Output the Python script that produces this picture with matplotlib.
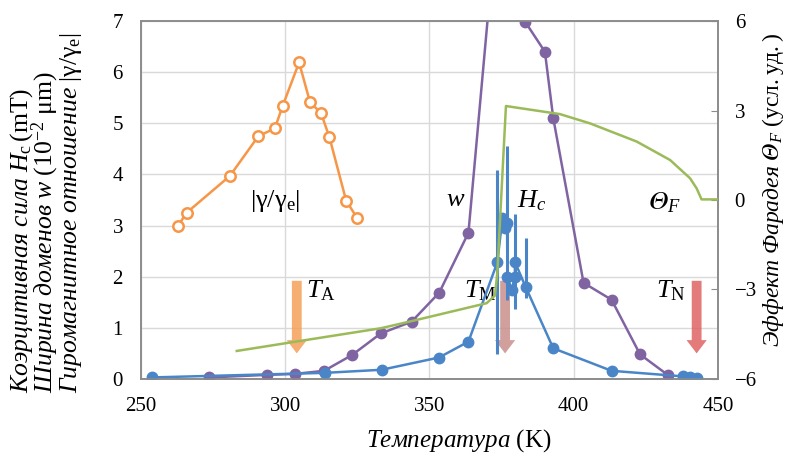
import matplotlib
matplotlib.use("Agg")
import matplotlib.pyplot as plt
from matplotlib.patches import FancyArrow

plt.rcParams["font.family"] = ["Liberation Serif", "DejaVu Serif"]
plt.rcParams["mathtext.fontset"] = "custom"
plt.rcParams["mathtext.rm"] = "Liberation Serif"
plt.rcParams["mathtext.it"] = "Liberation Serif:italic"
plt.rcParams["mathtext.bf"] = "Liberation Serif:bold"
plt.rcParams["mathtext.fallback"] = "stix"

# Coercive force Hc (mT) with error bars
hc_T = [253.7, 313.8, 333.4, 353.3, 363.5, 373.5, 375.3, 376.0, 376.9, 377.0,
        378.5, 379.6, 379.6, 383.4, 392.9, 413.1, 438.0, 440.3, 442.6]
hc_val = [0.03, 0.12, 0.18, 0.42, 0.73, 2.28, 3.15, 2.95, 3.05, 2.00,
          1.74, 2.00, 2.29, 1.79, 0.60, 0.16, 0.05, 0.03, 0.01]
hc_err_lo = [0, 0, 0, 0, 0, 1.80, 0.10, 0.10, 1.50, 0.10,
             0.10, 0.10, 0.93, 0.21, 0, 0, 0, 0, 0]
hc_err_hi = [0, 0, 0, 0, 0, 1.80, 0.10, 0.10, 1.50, 0.10,
             0.10, 0.10, 0.93, 0.97, 0, 0, 0, 0, 0]

# Domain width w (10^-2 um); the peak runs above the plotted range
w_T = [273.6, 293.6, 303.5, 313.5, 323.2, 333.1, 343.8, 353.4, 363.5, 376.0,
       383.1, 390.0, 392.9, 403.4, 413.1, 423.0, 432.8]
w_val = [0.03, 0.08, 0.10, 0.16, 0.47, 0.89, 1.12, 1.69, 2.86, 10.7,
         6.99, 6.40, 5.10, 1.88, 1.55, 0.48, 0.07]

# Gyromagnetic ratio |gamma/gamma_e|
g_T = [262.9, 265.8, 280.8, 290.7, 296.4, 299.1, 304.8, 308.6, 312.4, 315.3, 321.1, 325.0]
g_val = [3.00, 3.25, 3.97, 4.75, 4.90, 5.34, 6.19, 5.41, 5.20, 4.73, 3.49, 3.14]

# Faraday effect Theta_F (arb. units), right axis
f_T = [283.2, 303.5, 333.1, 343.8, 369.8, 372.7, 373.5, 376.5, 395.2, 405.6,
       421.8, 433.4, 440.3, 442.6, 444.3, 450.3]
f_val = [-5.06, -4.75, -4.30, -4.06, -3.46, -3.20, -2.45, 3.15, 2.88, 2.57,
         1.96, 1.34, 0.73, 0.39, 0.02, 0.02]

# Transition temperatures marked by arrows
trans_names = ["A", "M", "N"]
trans_T = [304.0, 376.2, 442.6]

x_ticks = [250, 300, 350, 400, 450]
y_ticks = [0, 1, 2, 3, 4, 5, 6, 7]
y2_ticks = [-6, -3, 0, 3, 6]

BLUE = "#4a86c7"
PURPLE = "#8064a2"
ORANGE = "#f79646"
GREEN = "#9bbb59"
GRID = "#d9d9d9"
FRAME = "#8c8c8c"
THETA = "\U0001D6E9"  # mathematical italic capital theta

fig = plt.figure(figsize=(7.89, 4.53), dpi=100)
ax = fig.add_axes([0.1787, 0.1634, 0.7313, 0.7902])
ax.set_xlim(250, 450)
ax.set_ylim(0, 7)
ax.set_xticks(x_ticks)
ax.set_yticks(y_ticks)
ax.grid(True, color=GRID, lw=1.0)
ax.set_axisbelow(True)
for s in ax.spines.values():
    s.set_color(FRAME)
    s.set_linewidth(1.2)
ax.tick_params(length=0, labelsize=15)
ax.tick_params(axis="y", pad=13)
ax.tick_params(axis="x", pad=13)

# arrows for transition temperatures
arrow_cols = ["#f5a05a", "#c98f8c", "#e06464"]
for t, c in zip(trans_T, arrow_cols):
    ax.add_patch(FancyArrow(t, 1.92, 0, -1.42, width=3.4, head_width=7.0,
                            head_length=0.26, length_includes_head=True,
                            color=c, alpha=0.85, lw=0, zorder=2))

ax.plot(g_T, g_val, color=ORANGE, lw=1.8, marker="o", ms=7.5, mfc="white",
        mec=ORANGE, mew=1.8, zorder=4)
ax.plot(w_T, w_val, color=PURPLE, lw=1.8, marker="o", ms=7.5, mec=PURPLE,
        zorder=4)
ax.errorbar(hc_T, hc_val, yerr=[hc_err_lo, hc_err_hi], color=BLUE, lw=1.8,
            marker="o", ms=7.5, elinewidth=2.2, capsize=0, zorder=5)

ax.set_xlabel(r"$\mathit{Температура}\ \mathrm{(K)}$", fontsize=18)
ax.xaxis.set_label_coords(0.551, -0.135)

ax2 = ax.twinx()
ax2.set_ylim(-6, 6)
ax2.set_yticks(y2_ticks)
ax2.plot(f_T, f_val, color=GREEN, lw=1.8, zorder=3)
for s in ax2.spines.values():
    s.set_color(FRAME)
    s.set_linewidth(1.2)
ax2.tick_params(axis="y", direction="in", length=5, color=FRAME,
                labelsize=15, pad=12)
ax2.set_ylabel(r"$\mathit{Эффект\ Фарадея\ %s_F}\ \mathrm{(усл.уд.)}$" % THETA,
               fontsize=17)
ax2.yaxis.set_label_coords(1.072, 0.528)

# labels of curves and transitions
lab = dict(fontsize=19, ha="center", va="center")
ax.text(296.5, 3.48, r"$|\mathrm{γ}/\mathrm{γ}_{\mathrm{e}}|$", **lab)
ax.text(359.0, 3.50, r"$w$", **lab)
ax.text(385.5, 3.48, r"$H_c$", **lab)
ax.text(431.5, 3.45, r"$%s_F$" % THETA, **lab)
for name, t, dx in zip(trans_names, trans_T, [8.5, -8.5, -9.0]):
    ax.text(t + dx, 1.72, r"$T_{\mathrm{%s}}$" % name, **lab)

fig.text(0.058, 0.132,
         "$\\mathit{Коэрцитивная\\ сила\\ H}_{\\mathrm{c}}\\,\\mathrm{(mT)}$\n"
         "$\\mathit{Ширина\\ доменов\\ w}\\ \\mathrm{(10^{-2}\\ μm)}$\n"
         "$\\mathit{Гиромагнитное\\ отношение}\\ \\mathrm{|γ/γ_e|}$",
         rotation=90, fontsize=18.5, ha="center", va="bottom",
         multialignment="left", linespacing=0.8)

fig.savefig("out.png", dpi=100)
